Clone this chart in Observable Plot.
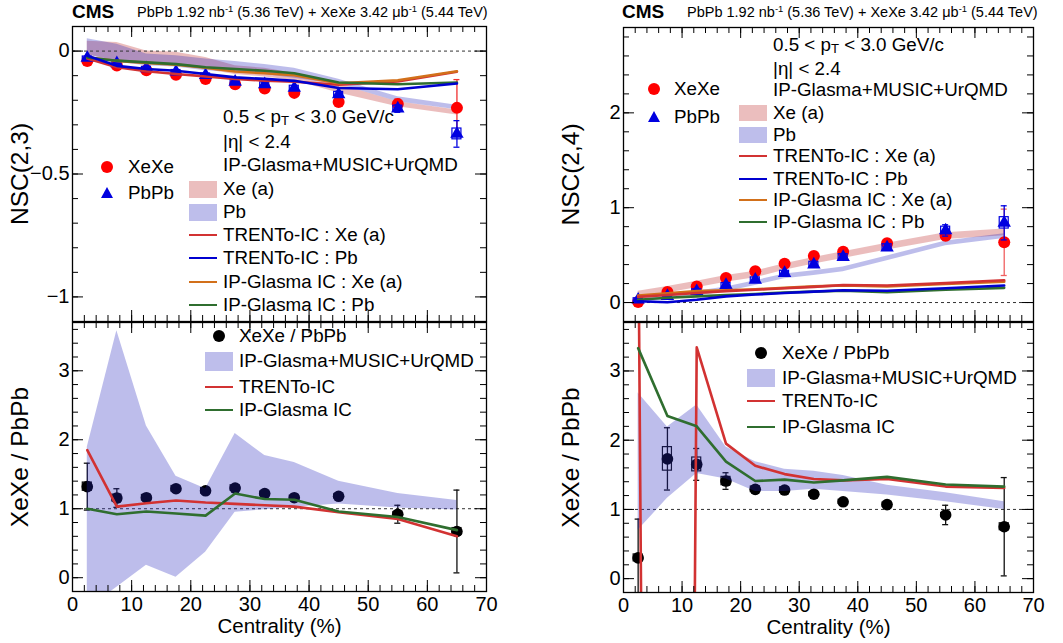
<!DOCTYPE html>
<html><head><meta charset="utf-8">
<script src="https://cdn.jsdelivr.net/npm/d3@7"></script>
<script src="https://cdn.jsdelivr.net/npm/@observablehq/plot@0.6"></script>
<style>
body{margin:0;background:#fff;font-family:"Liberation Sans",Arial,Helvetica,sans-serif;}
#wrap{position:relative;width:1063px;height:643px;overflow:hidden;background:#fff;}
.p{position:absolute;}
.t{position:absolute;white-space:nowrap;transform:translateY(-50%);line-height:1;color:#000;}
.t sub{font-size:0.7em;vertical-align:-0.2em;line-height:0;}
.t sup{font-size:0.65em;vertical-align:0.55em;line-height:0;}
.sw{position:absolute;}
</style></head><body><div id="wrap"></div><script>
// ---------------- data ----------------
const centrality = [2.5, 7.5, 12.5, 17.5, 22.5, 27.5, 32.5, 37.5, 45, 55, 65];

// NSC(2,3)
const nsc23XeXe    = [-0.040, -0.059, -0.078, -0.096, -0.114, -0.135, -0.152, -0.170, -0.207, -0.215, -0.231];
const nsc23XeXeErr = [0.004, 0.004, 0.004, 0.005, 0.005, 0.006, 0.007, 0.008, 0.010, 0.020, 0.115];
const nsc23PbPb    = [-0.028, -0.050, -0.070, -0.084, -0.098, -0.125, -0.135, -0.150, -0.176, -0.234, -0.337];
const nsc23PbPbErr = [0.004, 0.006, 0.005, 0.005, 0.005, 0.006, 0.007, 0.008, 0.012, 0.015, 0.054];
const nsc23PbPbSys = [0.006, 0.006, 0.006, 0.007, 0.007, 0.008, 0.008, 0.009, 0.010, 0.012, 0.022];
const nsc23XeBandLo = [-0.015, -0.040, -0.055, -0.060, -0.075, -0.095, -0.105, -0.120, -0.170, -0.226, -0.260];
const nsc23XeBandHi = [0.040, 0.035, 0.000, -0.005, -0.026, -0.060, -0.070, -0.090, -0.135, -0.206, -0.240];
const nsc23PbBandLo = [-0.015, -0.045, -0.060, -0.065, -0.080, -0.085, -0.095, -0.110, -0.135, -0.206, -0.239];
const nsc23PbBandHi = [0.050, 0.028, -0.012, -0.019, -0.032, -0.042, -0.055, -0.070, -0.115, -0.186, -0.220];
const trento23Xe = [-0.030, -0.066, -0.082, -0.093, -0.103, -0.113, -0.120, -0.125, -0.137, -0.124, -0.084];
const trento23Pb = [-0.019, -0.060, -0.073, -0.080, -0.093, -0.107, -0.113, -0.121, -0.150, -0.155, -0.132];
const glasma23Xe = [-0.025, -0.040, -0.048, -0.055, -0.068, -0.083, -0.090, -0.098, -0.131, -0.119, -0.082];
const glasma23Pb = [-0.026, -0.039, -0.046, -0.053, -0.066, -0.073, -0.080, -0.090, -0.128, -0.135, -0.128];

// NSC(2,4)
const nsc24XeXe    = [0.005, 0.110, 0.168, 0.258, 0.330, 0.410, 0.490, 0.535, 0.625, 0.705, 0.635];
const nsc24XeXeErr = [0.010, 0.012, 0.015, 0.018, 0.020, 0.022, 0.025, 0.030, 0.035, 0.050, 0.350];
const nsc24PbPb    = [0.030, 0.068, 0.120, 0.185, 0.240, 0.310, 0.400, 0.480, 0.580, 0.760, 0.840];
const nsc24PbPbErr = [0.010, 0.010, 0.012, 0.014, 0.016, 0.018, 0.020, 0.025, 0.030, 0.060, 0.180];
const nsc24PbPbSys = [0.015, 0.015, 0.020, 0.020, 0.025, 0.025, 0.030, 0.030, 0.035, 0.040, 0.060];
const nsc24XeBandLo = [0.050, 0.100, 0.155, 0.215, 0.260, 0.340, 0.405, 0.465, 0.555, 0.665, 0.705];
const nsc24XeBandHi = [0.120, 0.170, 0.225, 0.285, 0.330, 0.410, 0.475, 0.535, 0.625, 0.735, 0.775];
const nsc24PbBandLo = [-0.005, 0.035, 0.070, 0.115, 0.180, 0.250, 0.285, 0.325, 0.440, 0.600, 0.675];
const nsc24PbBandHi = [0.045, 0.085, 0.120, 0.165, 0.230, 0.300, 0.335, 0.375, 0.490, 0.650, 0.725];
const trento24Xe = [0.060, 0.080, 0.100, 0.120, 0.135, 0.150, 0.165, 0.185, 0.180, 0.205, 0.235];
const trento24Pb = [0.014, 0.003, 0.030, 0.065, 0.084, 0.100, 0.115, 0.130, 0.125, 0.150, 0.180];
const glasma24Xe = [0.074, 0.098, 0.120, 0.130, 0.140, 0.155, 0.170, 0.180, 0.170, 0.195, 0.220];
const glasma24Pb = [0.030, 0.050, 0.065, 0.080, 0.090, 0.105, 0.115, 0.125, 0.110, 0.135, 0.155];

// XeXe / PbPb ratio, NSC(2,3)
const ratio23    = [1.32, 1.155, 1.16, 1.29, 1.26, 1.30, 1.22, 1.16, 1.18, 0.92, 0.67];
const ratio23Err = [0.34, 0.135, 0.05, 0.05, 0.05, 0.05, 0.04, 0.04, 0.04, 0.13, 0.60];
const ratio23Sys = [0.06, 0.05, 0.04, 0.04, 0.04, 0.04, 0.03, 0.03, 0.03, 0.03, 0.05];
const ratio23BandLo = [-0.45, -0.14, 0.18, 0.005, 0.37, 0.95, 0.985, 1.02, 1.07, 1.01, 0.98];
const ratio23BandHi = [1.89, 3.58, 2.20, 1.47, 1.29, 2.09, 1.77, 1.67, 1.40, 1.22, 1.12];
const trentoRatio23 = [1.85, 1.03, 1.08, 1.12, 1.09, 1.07, 1.05, 1.03, 0.95, 0.85, 0.60];
const glasmaRatio23 = [1.00, 0.92, 0.96, 0.93, 0.90, 1.22, 1.14, 1.13, 0.96, 0.88, 0.69];

// XeXe / PbPb ratio, NSC(2,4)
const ratio24    = [0.30, 1.73, 1.65, 1.41, 1.29, 1.28, 1.22, 1.11, 1.07, 0.92, 0.75];
const ratio24Err = [0.56, 0.45, 0.23, 0.12, 0.05, 0.05, 0.04, 0.04, 0.04, 0.14, 0.71];
const ratio24Sys = [0.05, 0.17, 0.10, 0.06, 0.04, 0.04, 0.03, 0.03, 0.03, 0.03, 0.05];
const ratio24BandLo = [0.70, 1.16, 1.52, 1.44, 1.26, 1.26, 1.29, 1.26, 1.21, 1.11, 1.00];
const ratio24BandHi = [2.68, 2.19, 2.51, 1.90, 1.69, 1.58, 1.55, 1.49, 1.35, 1.24, 1.11];
const trentoRatio24 = [5.5, -52, 3.34, 1.95, 1.63, 1.51, 1.44, 1.42, 1.44, 1.33, 1.31];
const glasmaRatio24 = [3.33, 2.35, 2.20, 1.69, 1.41, 1.43, 1.39, 1.42, 1.47, 1.36, 1.33];

// ticks / labels
const xMajor = [0, 10, 20, 30, 40, 50, 60, 70];
const xMinor = d3.range(0, 70.001, 2);
const y23Major = [-1, -0.5, 0];
const y24Major = [0, 1, 2];
const yRatioMajor = [0, 1, 2, 3];
const xTitle = "Centrality (%)";
const yTitles = ["NSC(2,3)", "NSC(2,4)", "XeXe / PbPb", "XeXe / PbPb"];

// ---------------- styles ----------------
const FONT = '"Liberation Sans", Arial, Helvetica, sans-serif';
const LEG = 18.8;
const C = {
  red: "#ff0000", blue: "#0000e0", black: "#000",
  trXe: "#d23232", trPb: "#0000d0", ipXe: "#d2701a", ipPb: "#2f6e2f",
  bandXe: "rgb(188,38,38)", bandPb: "rgb(38,38,188)",
  swXe: "rgb(235,190,190)", swPb: "rgb(190,190,235)"
};
const fmt = d => d < 0 ? "\u2212" + Math.abs(d) : String(d);

function rows(cols) {
  return centrality.map((x, i) => { const o = {x}; for (const k in cols) o[k] = cols[k][i]; return o; });
}

const wrap = document.getElementById("wrap");

function panel({left, top, width, height, mt, mb, ml, mr, yDomain, yMajor, yMinor, yTitle, xLabels, marks}) {
  const fw = width - ml - mr, fh = height - mt - mb;
  const m = [
    ...marks,
    Plot.tickY(yMinor, {y: d => d, insetRight: fw - 6, stroke: "black"}),
    Plot.tickY(yMinor, {y: d => d, insetLeft: fw - 6, stroke: "black"}),
    Plot.tickY(yMajor, {y: d => d, insetRight: fw - 11, stroke: "black"}),
    Plot.tickY(yMajor, {y: d => d, insetLeft: fw - 11, stroke: "black"}),
    Plot.tickX(xMinor, {x: d => d, insetTop: fh - 6, stroke: "black"}),
    Plot.tickX(xMinor, {x: d => d, insetBottom: fh - 6, stroke: "black"}),
    Plot.tickX(xMajor, {x: d => d, insetTop: fh - 11, stroke: "black"}),
    Plot.tickX(xMajor, {x: d => d, insetBottom: fh - 11, stroke: "black"}),
    Plot.frame({stroke: "black", strokeWidth: 1.3}),
    Plot.axisY({ticks: yMajor, tickSize: 0, tickPadding: 3, label: null, fontSize: 20, tickFormat: fmt}),
    Plot.text([yTitle], {text: d => d, frameAnchor: "left", textAnchor: "middle", lineAnchor: "middle", rotate: -90, dx: -52, fontSize: 24.5})
  ];
  if (xLabels) {
    m.push(Plot.axisX({ticks: xMajor, tickSize: 0, tickPadding: 5, label: null, fontSize: 20}));
    m.push(Plot.text([xTitle], {text: d => d, frameAnchor: "bottom", textAnchor: "middle", lineAnchor: "middle", dy: 35, fontSize: 20.5}));
  }
  const svg = Plot.plot({
    width, height, marginTop: mt, marginBottom: mb, marginLeft: ml, marginRight: mr,
    x: {domain: [0, 70], axis: null},
    y: {domain: yDomain, axis: null},
    style: {fontFamily: FONT, fontSize: "20px", background: "transparent", overflow: "visible", color: "black"},
    marks: m
  });
  svg.classList.add("p");
  svg.style.left = left + "px";
  svg.style.top = top + "px";
  wrap.appendChild(svg);
}

function errMarks(data, y, e, color, sys) {
  const out = [
    Plot.ruleX(data, {x: "x", y1: d => d[y] - d[e], y2: d => d[y] + d[e], stroke: color, strokeWidth: 1.3, clip: true}),
    Plot.ruleY(data, {x1: "x", x2: "x", y: d => d[y] + d[e], insetLeft: -3, insetRight: -3, stroke: color, strokeWidth: 1.3, clip: true}),
    Plot.ruleY(data, {x1: "x", x2: "x", y: d => d[y] - d[e], insetLeft: -3, insetRight: -3, stroke: color, strokeWidth: 1.3, clip: true})
  ];
  if (sys) out.push(Plot.rect(data, {x1: "x", x2: "x", y1: d => d[y] - d[sys], y2: d => d[y] + d[sys], insetLeft: -4.5, insetRight: -4.5, fill: "none", stroke: color, strokeWidth: 1.2, clip: true}));
  return out;
}

function modelLine(data, y, color) {
  return Plot.line(data, {x: "x", y, stroke: color, strokeWidth: 2.6, clip: true});
}

// ---------------- top-left: NSC(2,3) ----------------
const d23 = rows({xe: nsc23XeXe, xeE: nsc23XeXeErr, pb: nsc23PbPb, pbE: nsc23PbPbErr, pbS: nsc23PbPbSys,
  xeLo: nsc23XeBandLo, xeHi: nsc23XeBandHi, pbLo: nsc23PbBandLo, pbHi: nsc23PbBandHi,
  trXe: trento23Xe, trPb: trento23Pb, ipXe: glasma23Xe, ipPb: glasma23Pb});
panel({
  left: 0, top: 0, width: 530, height: 322, mt: 26, mb: 1, ml: 72, mr: 44,
  yDomain: [-1.1, 0.1], yMajor: y23Major, yMinor: d3.range(-1.1, 0.1001, 0.1), yTitle: yTitles[0],
  marks: [
    Plot.areaY(d23, {x: "x", y1: "xeLo", y2: "xeHi", fill: C.bandXe, fillOpacity: 0.3, clip: true}),
    Plot.areaY(d23, {x: "x", y1: "pbLo", y2: "pbHi", fill: C.bandPb, fillOpacity: 0.3, clip: true}),
    Plot.ruleY([0], {stroke: "#333", strokeDasharray: "3,3", strokeWidth: 1}),
    ...errMarks(d23, "xe", "xeE", "#f03030"),
    Plot.dot(d23, {x: "x", y: "xe", r: 6, fill: C.red}),
    ...errMarks(d23, "pb", "pbE", C.blue, "pbS"),
    Plot.dot(d23, {x: "x", y: "pb", symbol: "triangle", r: 5, fill: C.blue}),
    modelLine(d23, "trXe", C.trXe),
    modelLine(d23, "ipXe", C.ipXe),
    modelLine(d23, "ipPb", C.ipPb),
    modelLine(d23, "trPb", C.trPb)
  ]
});

// ---------------- bottom-left: ratio NSC(2,3) ----------------
const r23 = rows({r: ratio23, e: ratio23Err, s: ratio23Sys, lo: ratio23BandLo, hi: ratio23BandHi, tr: trentoRatio23, ip: glasmaRatio23});
panel({
  left: 0, top: 321, width: 530, height: 322, mt: 1, mb: 52, ml: 72, mr: 44,
  yDomain: [-0.2, 3.7], yMajor: yRatioMajor, yMinor: d3.range(-0.2, 3.7001, 0.2), yTitle: yTitles[2], xLabels: true,
  marks: [
    Plot.ruleY([1], {stroke: "#333", strokeDasharray: "3,3", strokeWidth: 1}),
    ...errMarks(r23, "r", "e", "#111", "s"),
    Plot.dot(r23, {x: "x", y: "r", r: 5.8, fill: C.black}),
    Plot.areaY(r23, {x: "x", y1: "lo", y2: "hi", fill: C.bandPb, fillOpacity: 0.3, clip: true}),
    modelLine(r23, "tr", C.trXe),
    modelLine(r23, "ip", C.ipPb)
  ]
});

// ---------------- top-right: NSC(2,4) ----------------
const d24 = rows({xe: nsc24XeXe, xeE: nsc24XeXeErr, pb: nsc24PbPb, pbE: nsc24PbPbErr, pbS: nsc24PbPbSys,
  xeLo: nsc24XeBandLo, xeHi: nsc24XeBandHi, pbLo: nsc24PbBandLo, pbHi: nsc24PbBandHi,
  trXe: trento24Xe, trPb: trento24Pb, ipXe: glasma24Xe, ipPb: glasma24Pb});
panel({
  left: 530, top: 0, width: 533, height: 322, mt: 27, mb: 1, ml: 93, mr: 30,
  yDomain: [-0.2, 2.9], yMajor: y24Major, yMinor: d3.range(-0.2, 2.9001, 0.2), yTitle: yTitles[1],
  marks: [
    Plot.areaY(d24, {x: "x", y1: "xeLo", y2: "xeHi", fill: C.bandXe, fillOpacity: 0.3, clip: true}),
    Plot.areaY(d24, {x: "x", y1: "pbLo", y2: "pbHi", fill: C.bandPb, fillOpacity: 0.3, clip: true}),
    Plot.ruleY([0], {stroke: "#333", strokeDasharray: "3,3", strokeWidth: 1}),
    ...errMarks(d24, "xe", "xeE", "#f06060"),
    Plot.dot(d24, {x: "x", y: "xe", r: 6, fill: C.red}),
    ...errMarks(d24, "pb", "pbE", C.blue, "pbS"),
    Plot.dot(d24, {x: "x", y: "pb", symbol: "triangle", r: 5, fill: C.blue}),
    modelLine(d24, "ipPb", C.ipPb),
    modelLine(d24, "trPb", C.trPb),
    modelLine(d24, "ipXe", C.ipXe),
    modelLine(d24, "trXe", C.trXe)
  ]
});

// ---------------- bottom-right: ratio NSC(2,4) ----------------
const r24 = rows({r: ratio24, e: ratio24Err, s: ratio24Sys, lo: ratio24BandLo, hi: ratio24BandHi, tr: trentoRatio24, ip: glasmaRatio24});
panel({
  left: 530, top: 321, width: 533, height: 322, mt: 1, mb: 51, ml: 93, mr: 30,
  yDomain: [-0.2, 3.7], yMajor: yRatioMajor, yMinor: d3.range(-0.2, 3.7001, 0.2), yTitle: yTitles[3], xLabels: true,
  marks: [
    Plot.ruleY([1], {stroke: "#333", strokeDasharray: "3,3", strokeWidth: 1}),
    ...errMarks(r24, "r", "e", "#111", "s"),
    Plot.dot(r24, {x: "x", y: "r", r: 5.8, fill: C.black}),
    Plot.areaY(r24, {x: "x", y1: "lo", y2: "hi", fill: C.bandPb, fillOpacity: 0.3, clip: true}),
    modelLine(r24, "tr", C.trXe),
    modelLine(r24, "ip", C.ipPb)
  ]
});

// ---------------- titles & legends (HTML overlay) ----------------
function text(x, y, html, size = LEG, weight = "normal") {
  const d = document.createElement("div");
  d.className = "t";
  d.style.left = x + "px"; d.style.top = y + "px";
  d.style.fontSize = size + "px"; d.style.fontWeight = weight;
  d.innerHTML = html;
  wrap.appendChild(d);
}
function box(x1, y1, x2, y2, color) {
  const d = document.createElement("div");
  d.className = "sw";
  Object.assign(d.style, {left: x1 + "px", top: y1 + "px", width: (x2 - x1) + "px", height: (y2 - y1) + "px", background: color});
  wrap.appendChild(d);
}
function lineSw(x1, x2, y, color) { box(x1, y - 1.3, x2, y + 1.3, color); }
function marker(cx, cy, kind, color) {
  const ns = "http://www.w3.org/2000/svg";
  const s = document.createElementNS(ns, "svg");
  s.setAttribute("width", 16); s.setAttribute("height", 16);
  s.style.position = "absolute"; s.style.left = (cx - 8) + "px"; s.style.top = (cy - 8) + "px";
  let el;
  if (kind === "circle") { el = document.createElementNS(ns, "circle"); el.setAttribute("cx", 8); el.setAttribute("cy", 8); el.setAttribute("r", 6); }
  else { el = document.createElementNS(ns, "polygon"); el.setAttribute("points", "8,2 14,13 2,13"); }
  el.setAttribute("fill", color);
  s.appendChild(el);
  wrap.appendChild(s);
}

const titleCMS = "CMS";
const titleLumi = "PbPb 1.92 nb<sup>-1</sup> (5.36 TeV) + XeXe 3.42 &mu;b<sup>-1</sup> (5.44 TeV)";
const kinPt = "0.5 &lt; p<sub>T</sub> &lt; 3.0 GeV/c";
const kinEta = "|&eta;| &lt; 2.4";
const modelName = "IP-Glasma+MUSIC+UrQMD";
const legData = ["XeXe", "PbPb"];
const legModels = ["Xe (a)", "Pb", "TRENTo-IC : Xe (a)", "TRENTo-IC : Pb", "IP-Glasma IC : Xe (a)", "IP-Glasma IC : Pb"];
const legRatio = ["XeXe / PbPb", "IP-Glasma+MUSIC+UrQMD", "TRENTo-IC", "IP-Glasma IC"];

// titles
text(72, 11, titleCMS, 19, "bold");
text(137, 12, titleLumi, 14.5);
text(622, 11, titleCMS, 19, "bold");
text(687, 12, titleLumi, 14.5);

// top-left legend
text(223, 117, kinPt); text(223, 142, kinEta); text(223, 165, modelName);
marker(107, 167, "circle", C.red); text(128, 167, legData[0]);
marker(107, 193, "tri", C.blue); text(128, 193, legData[1]);
box(189, 181, 217, 198, C.swXe); text(223, 189, legModels[0]);
box(189, 204, 217, 221, C.swPb); text(223, 212, legModels[1]);
lineSw(189, 217, 235, C.trXe); text(223, 235, legModels[2]);
lineSw(189, 217, 258, C.trPb); text(223, 258, legModels[3]);
lineSw(189, 217, 282, C.ipXe); text(223, 282, legModels[4]);
lineSw(189, 217, 305, C.ipPb); text(223, 305, legModels[5]);

// top-right legend
text(773, 45, kinPt); text(773, 69, kinEta); text(773, 90, modelName);
marker(654, 89, "circle", C.red); text(674, 89, legData[0]);
marker(654, 117, "tri", C.blue); text(674, 117, legData[1]);
box(739, 105, 767, 121, C.swXe); text(773, 113, legModels[0]);
box(739, 127, 767, 143, C.swPb); text(773, 135, legModels[1]);
lineSw(739, 767, 156, C.trXe); text(773, 156, legModels[2]);
lineSw(739, 767, 179, C.trPb); text(773, 179, legModels[3]);
lineSw(739, 767, 200, C.ipXe); text(773, 200, legModels[4]);
lineSw(739, 767, 222, C.ipPb); text(773, 222, legModels[5]);

// bottom-left legend
marker(219, 336, "circle", C.black); text(239, 336, legRatio[0]);
box(205, 352, 233, 371, C.swPb); text(239, 361, legRatio[1]);
lineSw(205, 233, 387, C.trXe); text(239, 387, legRatio[2]);
lineSw(205, 233, 410, C.ipPb); text(239, 410, legRatio[3]);

// bottom-right legend
marker(761, 353, "circle", C.black); text(782, 353, legRatio[0]);
box(747, 369, 775, 387, C.swPb); text(782, 378, legRatio[1]);
lineSw(747, 775, 401, C.trXe); text(782, 401, legRatio[2]);
lineSw(747, 775, 427, C.ipPb); text(782, 427, legRatio[3]);
</script></body></html>
